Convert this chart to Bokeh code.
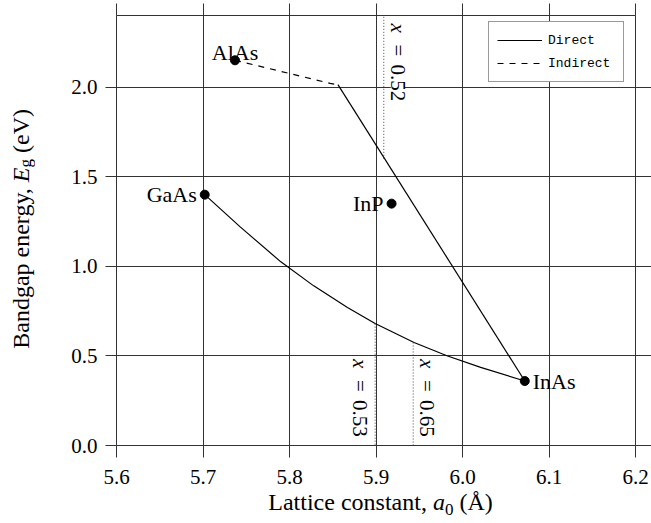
import math

from bokeh.embed import file_html
from bokeh.layouts import column, row
from bokeh.models import (Div, FixedTicker, Label, Legend, LegendItem,
                          LinearAxis, Range1d)
from bokeh.plotting import figure
from bokeh.resources import INLINE

# Binary compounds: lattice constant (Å) and bandgap (eV)
compounds = ["AlAs", "GaAs", "InP", "InAs"]
lattice = [5.737, 5.702, 5.918, 6.072]
bandgap = [2.15, 1.40, 1.35, 0.36]

# InGaAs (direct gap) between GaAs and InAs
ingaas_a = [5.702, 5.743, 5.790, 5.828, 5.867, 5.899, 5.944, 5.982, 6.021, 6.072]
ingaas_eg = [1.40, 1.22, 1.025, 0.891, 0.770, 0.681, 0.575, 0.501, 0.436, 0.36]

# InAlAs between AlAs and InAs: indirect branch, then direct branch
inalas_ind_a = [5.737, 5.847, 5.856]
inalas_ind_eg = [2.15, 2.021, 2.014]
inalas_dir_a = [5.856, 6.072]
inalas_dir_eg = [2.014, 0.36]

# Compositions lattice-matched to InP
match_labels = ["0.52", "0.53", "0.65"]
match_a = [5.909, 5.899, 5.943]
match_eg = [1.60, 0.68, 0.575]

x_ticks = [5.6, 5.7, 5.8, 5.9, 6.0, 6.1, 6.2]
x_tick_labels = ["5.6", "5.7", "5.8", "5.9", "6.0", "6.1", "6.2"]
y_ticks = [0.0, 0.5, 1.0, 1.5, 2.0]
y_tick_labels = ["0.0", "0.5", "1.0", "1.5", "2.0"]

x_title = 'Lattice constant, <i>a</i><sub style="font-size:17px;vertical-align:-5px;line-height:0;">0</sub> (Å)'
y_title = 'Bandgap energy, <i>E</i><sub style="font-size:17px;vertical-align:-5px;line-height:0;">g</sub> (eV)'

X_LO, X_HI = 5.6, 6.2
Y_LO, Y_HI = 0.0, 2.4

W, H = 651, 523
YTITLE_W = 40
XTITLE_H = 33
PLOT_W = W - YTITLE_W
PLOT_H = H - XTITLE_H

SERIF = "Liberation Serif"
GRID = "#333333"

p = figure(width=PLOT_W, height=PLOT_H,
           x_range=Range1d(X_LO, X_HI), y_range=Range1d(Y_LO, Y_HI),
           output_backend="svg", toolbar_location=None,
           min_border_left=116 - YTITLE_W, min_border_right=16,
           min_border_top=15, min_border_bottom=PLOT_H - 445, margin=0)
p.background_fill_color = "white"
p.border_fill_color = "white"
p.outline_line_color = GRID
p.outline_line_width = 1

# grid
p.xgrid.ticker = FixedTicker(ticks=x_ticks)
p.ygrid.ticker = FixedTicker(ticks=y_ticks)
for g in (p.xgrid, p.ygrid):
    g.grid_line_color = GRID
    g.grid_line_width = 1
    g.grid_line_alpha = 1.0


def style_axis(ax, ticks, labels, tick_out, show_labels, standoff):
    ax.ticker = FixedTicker(ticks=ticks)
    ax.axis_line_color = None
    ax.major_tick_line_color = GRID
    ax.major_tick_line_width = 1
    ax.major_tick_in = 0
    ax.major_tick_out = tick_out
    ax.minor_tick_line_color = None
    ax.major_label_standoff = standoff
    ax.major_label_text_font = SERIF
    ax.major_label_text_font_size = "21px"
    if show_labels:
        ax.major_label_overrides = {t: s for t, s in zip(ticks, labels)}
        ax.major_label_text_color = "black"
    else:
        ax.major_label_text_color = None


style_axis(p.xaxis[0], x_ticks, x_tick_labels, 12, True, 12)
style_axis(p.yaxis[0], y_ticks, y_tick_labels, 11, True, 8)

# tick marks continuing the grid past the top and right edges
top_axis = LinearAxis()
style_axis(top_axis, x_ticks, x_tick_labels, 12, False, 0)
p.add_layout(top_axis, "above")

right_axis = LinearAxis()
style_axis(right_axis, y_ticks, y_tick_labels, 16, False, 0)
p.add_layout(right_axis, "right")

# curves
r_ingaas = p.line(ingaas_a, ingaas_eg, line_color="black", line_width=1.2)
r_dir = p.line(inalas_dir_a, inalas_dir_eg, line_color="black", line_width=1.2)
r_ind = p.line(inalas_ind_a, inalas_ind_eg, line_color="black", line_width=1.2,
               line_dash="6 6")

# lattice-matched composition markers
match_end = [Y_HI if e > 1.0 else Y_LO for e in match_eg]
p.segment(x0=match_a, y0=match_eg, x1=match_a, y1=match_end,
          line_color="#444444", line_width=1, line_dash="1 2")

# compounds
p.scatter(lattice, bandgap, size=9, color="black")

placement = {
    "AlAs": dict(text_align="center", text_baseline="alphabetic", x_offset=0, y_offset=8),
    "GaAs": dict(text_align="right", text_baseline="middle", x_offset=-8, y_offset=0),
    "InP": dict(text_align="right", text_baseline="middle", x_offset=-8, y_offset=0),
    "InAs": dict(text_align="left", text_baseline="middle", x_offset=8, y_offset=0),
}
for name, a, e in zip(compounds, lattice, bandgap):
    p.add_layout(Label(x=a, y=e, text=name, text_font=SERIF,
                       text_font_size="22px", text_color="black",
                       **placement[name]))

# composition labels "x = ...", written downward beside each marker line
for lab, a, e, end in zip(match_labels, match_a, match_eg, match_end):
    if end == Y_HI:
        y0, dx, dy = Y_HI, 14, -8
    else:
        y0, dx, dy = 0.5, (-15 if lab == "0.53" else 14), -3
    common = dict(x=a, y=y0, x_offset=dx, angle=-math.pi / 2,
                  text_baseline="middle", text_align="left",
                  text_font=SERIF, text_font_size="21px",
                  text_color="black", background_fill_color="white")
    p.add_layout(Label(text="x", text_font_style="italic", y_offset=dy, **common))
    p.add_layout(Label(text="=", y_offset=dy - 21, **common))
    p.add_layout(Label(text=lab, y_offset=dy - 41, **common))

legend = Legend(items=[LegendItem(label="Direct", renderers=[r_dir]),
                       LegendItem(label="Indirect", renderers=[r_ind])],
                location=(372, 363), orientation="vertical")
legend.label_text_font = "Liberation Mono"
legend.label_text_font_size = "13px"
legend.label_text_color = "black"
legend.glyph_width = 45
legend.glyph_height = 20
legend.label_height = 20
legend.label_standoff = 6
legend.label_width = 67
legend.padding = 8
legend.spacing = 3
legend.margin = 0
legend.border_line_color = GRID
legend.border_line_width = 1
legend.background_fill_color = "white"
legend.background_fill_alpha = 1.0
p.add_layout(legend)

# axis titles with italic symbols and subscripts
font_css = f"font-family:'{SERIF}';font-size:24px;line-height:24px;color:black;white-space:nowrap;"
y_div = Div(
    text=(f'<div style="width:{YTITLE_W}px;height:{PLOT_H - 32}px;display:flex;'
          f'align-items:center;justify-content:flex-start;padding-left:9px;box-sizing:border-box;">'
          f'<span style="writing-mode:vertical-rl;transform:rotate(180deg);{font_css}">'
          f'{y_title}</span></div>'),
    width=YTITLE_W, height=PLOT_H, margin=0)
x_div = Div(
    text=(f'<div style="width:{W}px;height:{XTITLE_H}px;text-align:center;'
          f'padding-left:110px;box-sizing:border-box;{font_css}">{x_title}</div>'),
    width=W, height=XTITLE_H, margin=0)

layout = column(row(y_div, p, spacing=0, margin=0), x_div, spacing=0, margin=0)

open("out.html", "w").write(file_html(layout, INLINE))
